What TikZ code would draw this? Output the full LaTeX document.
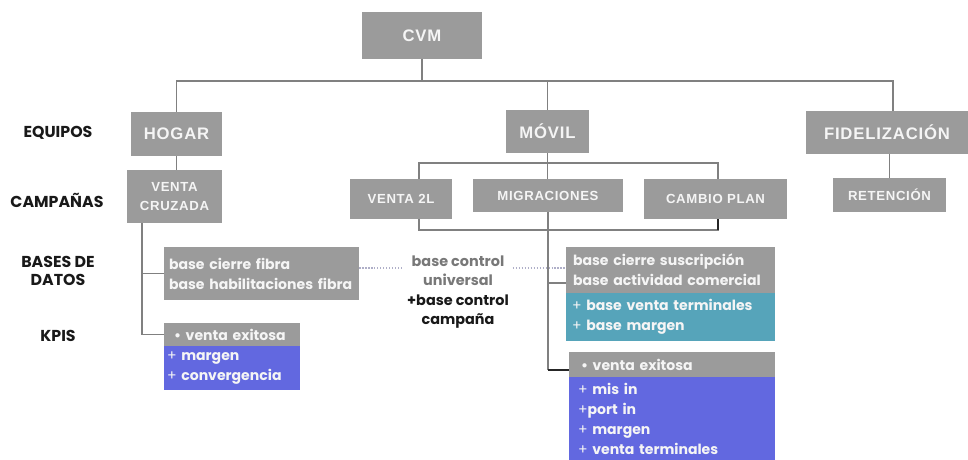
\documentclass[tikz,border=0pt]{standalone}
\usepackage{fontspec}
\setmainfont{Poppins}
\newfontfamily\titlefont{Liberation Sans}[LetterSpace=5]
\hyphenpenalty=10000
\exhyphenpenalty=10000
\definecolor{boxgray}{RGB}{155,155,155}
\definecolor{boxtext}{RGB}{245,245,245}
\definecolor{tealfill}{RGB}{86,164,186}
\definecolor{bluefill}{RGB}{98,104,224}
\definecolor{linegray}{RGB}{128,128,128}
\definecolor{linkcol}{RGB}{175,175,200}
\definecolor{labeltext}{RGB}{25,25,25}
\definecolor{softtext}{RGB}{120,120,120}
\tikzset{
  gbox/.style={fill=boxgray, text=boxtext, inner sep=0pt, align=center},
  bigtitle/.style={gbox, font=\titlefont\bfseries\fontsize{9.5}{11}\selectfont},
  smalltitle/.style={gbox, font=\titlefont\bfseries\fontsize{7.5}{10.8}\selectfont},
  listbox/.style={inner ysep=0pt, align=left, text=boxtext,
    font=\bfseries\fontsize{8}{11.4}\selectfont},
  rowlabel/.style={text=labeltext, align=center, inner sep=0pt,
    font=\bfseries\fontsize{9}{10.3}\selectfont},
  conn/.style={draw=linegray, line width=0.6pt},
  darkconn/.style={draw=black!85, line width=0.9pt},
  link/.style={draw=linkcol, line width=0.7pt, densely dotted}
}
\begin{document}
\begin{tikzpicture}[x=0.02cm, y=-0.02cm]
\useasboundingbox (0,0) rectangle (968,460);

% team level
\node[bigtitle, minimum width=2.4cm, minimum height=0.94cm] (cvm) at (422,35.5) {CVM};
\node[bigtitle, minimum width=1.82cm, minimum height=0.88cm] (hogar) at (176.5,134) {HOGAR};
\node[bigtitle, minimum width=1.66cm, minimum height=0.86cm] (movil) at (547.5,131.5) {MÓVIL};
\node[bigtitle, minimum width=3.24cm, minimum height=0.86cm] (fidel) at (887,132.5) {FIDELIZACIÓN};

% campaigns
\node[smalltitle, minimum width=1.9cm, minimum height=1.06cm] (vcruz) at (174.5,196.5) {VENTA\\CRUZADA};
\node[smalltitle, minimum width=2.04cm, minimum height=0.8cm] (v2l) at (401,199) {VENTA 2L};
\node[smalltitle, minimum width=3.0cm, minimum height=0.66cm] (migr) at (548,195.5) {MIGRACIONES};
\node[smalltitle, minimum width=2.86cm, minimum height=0.8cm] (cplan) at (715.5,199) {CAMBIO PLAN};
\node[smalltitle, minimum width=2.26cm, minimum height=0.68cm] (reten) at (889.5,195) {RETENCIÓN};

% row labels
\node[rowlabel] (equipos) at (58,133) {EQUIPOS};
\node[rowlabel] (campanas) at (57,200) {CAMPAÑAS};
\node[rowlabel] (bases) at (58,271) {BASES DE\\DATOS};
\node[rowlabel] (kpis) at (58,336) {KPIS};

% data bases
\node[listbox, fill=boxgray, inner xsep=0.1cm, text width=3.7cm, minimum height=1.06cm] (dbL) at (261.5,273.5)
  {base cierre fibra\\\mbox{base habilitaciones fibra}};
\node[listbox, fill=boxgray, inner xsep=0.14cm, text width=3.9cm, minimum height=0.92cm] (dbRg) at (670.5,270)
  {base cierre suscripción\\base actividad comercial};
\node[listbox, fill=tealfill, inner xsep=0.12cm, text width=3.94cm, minimum height=0.96cm] (dbRt) at (670.5,317)
  {{\mdseries+} base venta terminales\\{\mdseries+} base margen};
\node[align=center, inner xsep=2pt, inner ysep=0pt, font=\bfseries\fontsize{8.2}{11.1}\selectfont] (bctl) at (458,292)
  {\textcolor{softtext}{base control}\\\textcolor{softtext}{universal}\\\textcolor{labeltext}{+base control}\\\textcolor{labeltext}{campaña}};

% KPIs
\node[listbox, fill=boxgray, inner xsep=0.2cm, text width=2.32cm, minimum height=0.46cm] (kpiLg) at (232,334.5)
  {\textbullet\ venta exitosa};
\node[listbox, fill=bluefill, inner xsep=0.06cm, text width=2.6cm, minimum height=0.88cm] (kpiLb) at (232,368)
  {{\mdseries+} margen\\{\mdseries+} convergencia};
\node[listbox, fill=boxgray, inner xsep=0.24cm, text width=3.64cm, minimum height=0.5cm] (kpiRg) at (672,364.5)
  {\textbullet\ venta exitosa};
\node[listbox, fill=bluefill, inner xsep=0.18cm, text width=3.76cm, minimum height=1.66cm] (kpiRb) at (672,418.5)
  {{\mdseries+} mis in\\{\mdseries+}port in\\{\mdseries+} margen\\{\mdseries+} venta terminales};

% bus heights
\coordinate (busA) at (0,81);
\coordinate (busB) at (0,163);
\coordinate (busC) at (0,230);
\coordinate (yDbR) at (0,283);
\coordinate (yKpiR) at (0,370);
\coordinate (yLink) at (0,268);

% tree connectors
\draw[conn] (cvm.south) -- (cvm.south |- busA);
\draw[conn] (hogar.north) -- (hogar.north |- busA) -| ([xshift=0.12cm]fidel.north);
\draw[conn] (movil.north) -- (movil.north |- busA);
\draw[conn] (hogar.south) -- (hogar.south |- vcruz.north);
\draw[conn] (reten.north) -- (reten.north |- fidel.south);
\draw[conn] (movil.south) -- (movil.south |- migr.north);
\draw[conn] ([xshift=0.36cm]v2l.north) -- ([xshift=0.36cm]v2l.north |- busB) -| ([xshift=0.05cm]cplan.north);
\draw[conn] ([xshift=0.36cm]v2l.south) -- ([xshift=0.36cm]v2l.south |- busC) -| ([xshift=0.05cm]cplan.south);
\draw[darkconn] ([xshift=0.05cm]cplan.south) -- ([xshift=0.05cm]cplan.south |- busC);

% Hogar branch
\draw[conn] ([xshift=-0.65cm]vcruz.south) |- (kpiLg.west);
\draw[conn] (dbL.west) -- ([xshift=-0.65cm]vcruz.south |- dbL.west);

% Móvil branch
\draw[conn] (migr.south) -- (migr.south |- yKpiR);
\draw[conn] (migr.south |- yDbR) -- (dbRg.west |- yDbR);
\draw[darkconn] (migr.south |- yKpiR) -- (kpiRg.west |- yKpiR);

% shared control base links
\draw[link] (dbL.east |- yLink) -- (bctl.west |- yLink);
\draw[link] (bctl.east |- yLink) -- (dbRg.west |- yLink);
\end{tikzpicture}
\end{document}
